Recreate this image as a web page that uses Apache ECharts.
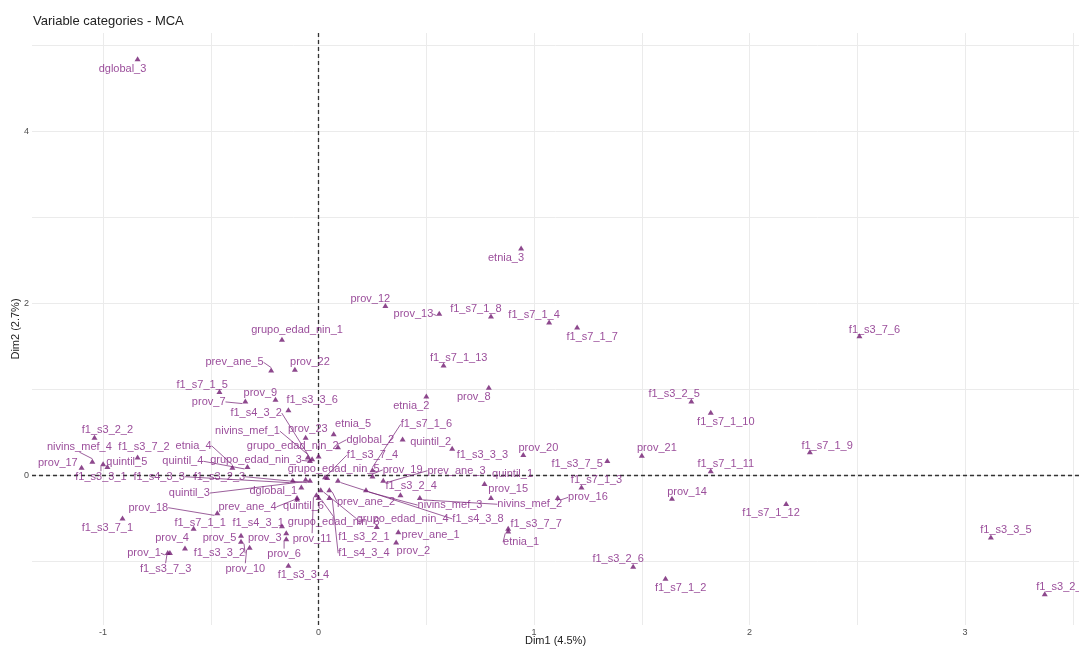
<!DOCTYPE html>
<html>
<head>
<meta charset="utf-8">
<script src="https://cdn.jsdelivr.net/npm/echarts@6/dist/echarts.min.js"></script>
<style>
  html, body { margin: 0; padding: 0; background: #fff; }
  #chart { width: 1079px; height: 649px; }
</style>
</head>
<body>
<div id="chart"></div>
<script>
// MCA variable categories: coordinates on Dim1 / Dim2
const names = [
  'dglobal_3', 'etnia_3', 'prov_12', 'prov_13', 'f1_s7_1_8', 'f1_s7_1_4', 'f1_s7_1_7', 'f1_s7_1_13',
  'prov_8', 'etnia_2', 'grupo_edad_nin_1', 'prev_ane_5', 'prov_22', 'f1_s7_1_5', 'prov_9', 'prov_7',
  'f1_s3_3_6', 'f1_s4_3_2', 'nivins_mef_1', 'prov_23', 'etnia_5', 'f1_s7_1_6', 'dglobal_2', 'quintil_2',
  'f1_s3_3_3', 'grupo_edad_nin_2', 'etnia_4', 'quintil_4', 'grupo_edad_nin_3', 'f1_s3_2_2', 'nivins_mef_4', 'prov_17',
  'quintil_5', 'f1_s3_3_1', 'f1_s3_7_2', 'f1_s4_3_3', 'f1_s3_2_3', 'quintil_3', 'dglobal_1', 'grupo_edad_nin_5',
  'prov_19', 'prev_ane_3', 'quintil_1', 'prov_15', 'f1_s3_2_4', 'f1_s3_7_4', 'prev_ane_2', 'nivins_mef_3',
  'nivins_mef_2', 'f1_s4_3_8', 'grupo_edad_nin_4', 'prev_ane_1', 'prov_2', 'f1_s3_2_1', 'f1_s4_3_4', 'grupo_edad_nin_6',
  'quintil_6', 'prov_11', 'prov_3', 'prov_6', 'f1_s3_3_4', 'prov_10', 'prov_5', 'f1_s3_3_2',
  'f1_s4_3_1', 'f1_s7_1_1', 'prev_ane_4', 'prov_18', 'f1_s3_7_1', 'prov_4', 'prov_1', 'f1_s3_7_3',
  'f1_s3_7_6', 'f1_s3_2_5', 'f1_s7_1_10', 'prov_21', 'f1_s7_1_9', 'f1_s7_1_11', 'f1_s3_7_5', 'f1_s7_1_3',
  'prov_16', 'prov_20', 'f1_s3_7_7', 'etnia_1', 'f1_s3_2_6', 'f1_s7_1_2', 'prov_14', 'f1_s7_1_12',
  'f1_s3_3_5', 'f1_s3_2_7'
];
const dim1 = [
  -0.84, 0.94, 0.31, 0.56, 0.80, 1.07, 1.20, 0.58,
  0.79, 0.50, -0.17, -0.22, -0.11, -0.46, -0.20, -0.34,
  -0.14, -0.04, -0.05, -0.06, 0.07, 0.25, 0.09, 0.39,
  0.62, 0.00, -0.40, -0.33, -0.03, -1.04, -1.05, -1.10,
  -0.98, -1.00, -0.84, -0.12, -0.04, -0.06, -0.08, 0.03,
  0.25, 0.30, 0.77, 0.80, 0.38, 0.04, 0.05, 0.22,
  0.47, 0.09, 0.01, 0.37, 0.36, 0.27, 0.05, 0.00,
  -0.10, -0.01, -0.15, -0.15, -0.14, -0.32, -0.36, -0.36,
  -0.17, -0.58, -0.10, -0.47, -0.91, -0.62, -0.70, -0.69,
  2.51, 1.73, 1.82, 1.50, 2.28, 1.82, 1.34, 1.22,
  1.11, 0.95, 0.88, 0.88, 1.46, 1.61, 1.64, 2.17,
  3.12, 3.37
];
const dim2 = [
  4.84, 2.64, 1.97, 1.88, 1.85, 1.78, 1.72, 1.28,
  1.02, 0.92, 1.58, 1.22, 1.23, 0.97, 0.88, 0.86,
  0.76, 0.17, 0.21, 0.44, 0.48, 0.06, 0.33, 0.42,
  0.31, 0.22, 0.09, 0.10, 0.19, 0.44, 0.16, 0.09,
  0.10, 0.13, 0.21, -0.06, -0.06, -0.05, -0.14, -0.02,
  -0.01, -0.06, -0.10, -0.26, -0.23, -0.03, -0.17, -0.17,
  -0.26, -0.06, -0.17, -0.66, -0.78, -0.60, -0.26, -0.26,
  -0.28, -0.23, -0.67, -0.74, -1.05, -0.84, -0.70, -0.77,
  -0.59, -0.62, -0.26, -0.44, -0.50, -0.85, -0.90, -0.90,
  1.62, 0.86, 0.73, 0.23, 0.27, 0.05, 0.17, -0.14,
  -0.26, 0.24, -0.62, -0.65, -1.06, -1.20, -0.27, -0.33,
  -0.72, -1.38
];
// where the repelled text labels sit (same units as the axes)
const labelDim1 = [
  -0.91, 0.87, 0.24, 0.44, 0.73, 1.00, 1.27, 0.65,
  0.72, 0.43, -0.10, -0.39, -0.04, -0.54, -0.27, -0.51,
  -0.03, -0.29, -0.33, -0.05, 0.16, 0.50, 0.24, 0.52,
  0.76, -0.12, -0.58, -0.63, -0.29, -0.98, -1.11, -1.21,
  -0.89, -1.01, -0.81, -0.74, -0.46, -0.60, -0.21, 0.07,
  0.39, 0.64, 0.90, 0.88, 0.43, 0.25, 0.22, 0.61,
  0.98, 0.74, 0.39, 0.52, 0.44, 0.21, 0.21, 0.07,
  -0.07, -0.03, -0.25, -0.16, -0.07, -0.34, -0.46, -0.46,
  -0.28, -0.55, -0.33, -0.79, -0.98, -0.68, -0.81, -0.71,
  2.58, 1.65, 1.89, 1.57, 2.36, 1.89, 1.20, 1.29,
  1.25, 1.02, 1.01, 0.94, 1.39, 1.68, 1.71, 2.10,
  3.19, 3.45
];
const labelDim2 = [
  4.72, 2.52, 2.05, 1.87, 1.93, 1.86, 1.60, 1.36,
  0.91, 0.80, 1.69, 1.31, 1.31, 1.05, 0.95, 0.85,
  0.87, 0.72, 0.51, 0.53, 0.59, 0.59, 0.41, 0.38,
  0.23, 0.34, 0.34, 0.16, 0.17, 0.52, 0.33, 0.14,
  0.15, -0.02, 0.33, -0.02, -0.02, -0.21, -0.19, 0.07,
  0.06, 0.05, 0.01, -0.16, -0.13, 0.23, -0.31, -0.35,
  -0.34, -0.51, -0.51, -0.70, -0.88, -0.72, -0.91, -0.55,
  -0.36, -0.74, -0.73, -0.92, -1.16, -1.09, -0.73, -0.91,
  -0.56, -0.56, -0.37, -0.38, -0.62, -0.73, -0.91, -1.09,
  1.69, 0.94, 0.62, 0.31, 0.34, 0.13, 0.13, -0.06,
  -0.26, 0.31, -0.57, -0.78, -0.98, -1.31, -0.20, -0.44,
  -0.64, -1.30
];

const xTicks = [-1, 0, 1, 2, 3];
const yTicks = [0, 2, 4];
const xGridBreaks = [-1, -0.5, 0, 0.5, 1, 1.5, 2, 2.5, 3, 3.5];
const yGridBreaks = [-1, 0, 1, 2, 3, 4, 5];
const xRange = [-1.33, 3.529];
const yRange = [-1.744, 5.14];

const FONT = '"Liberation Sans", Arial, sans-serif';
const TEXT_COL = '#822282';
const MARK_COL = '#701a70';

const chart = echarts.init(document.getElementById('chart'));
let labelPx = [];

const baseOption = {
  animation: false,
  textStyle: { fontFamily: FONT },
  title: {
    text: 'Variable categories - MCA',
    left: 33,
    top: 15,
    padding: 0,
    textStyle: { fontSize: 13, fontWeight: 'normal', color: '#222', fontFamily: FONT }
  },
  grid: { left: 32, right: 0, top: 33, bottom: 24, containLabel: false, outerBoundsMode: 'none' },
  xAxis: {
    type: 'value',
    min: xRange[0],
    max: xRange[1],
    name: 'Dim1 (4.5%)',
    nameLocation: 'middle',
    nameGap: 10,
    nameMoveOverlap: false,
    nameTextStyle: { fontSize: 11, color: '#222' },
    axisLine: { show: false },
    axisTick: { show: true, length: 3, lineStyle: { color: '#333' }, customValues: xTicks },
    axisLabel: { fontSize: 9, color: '#4d4d4d', margin: 3, customValues: xTicks },
    splitLine: { show: false }
  },
  yAxis: {
    type: 'value',
    min: yRange[0],
    max: yRange[1],
    name: 'Dim2 (2.7%)',
    nameLocation: 'middle',
    nameGap: 11,
    nameMoveOverlap: false,
    nameTextStyle: { fontSize: 11, color: '#222' },
    axisLine: { show: false },
    axisTick: { show: true, length: 3, lineStyle: { color: '#333' }, customValues: yTicks },
    axisLabel: { fontSize: 9, color: '#4d4d4d', margin: 3, customValues: yTicks },
    splitLine: { show: false }
  },
  series: [
    {
      id: 'gridlines',
      type: 'scatter',
      data: [],
      silent: true,
      z: 1,
      markLine: {
        silent: true,
        symbol: 'none',
        z: 1,
        label: { show: false },
        lineStyle: { color: '#ebebeb', width: 1, type: 'solid' },
        data: xGridBreaks.map(v => ({ xAxis: v })).concat(yGridBreaks.map(v => ({ yAxis: v })))
      }
    },
    {
      id: 'zerolines',
      type: 'scatter',
      data: [],
      silent: true,
      z: 2,
      markLine: {
        silent: true,
        symbol: 'none',
        z: 2,
        label: { show: false },
        lineStyle: { color: '#333', width: 1.3, type: [4, 3] },
        data: [{ xAxis: 0 }, { yAxis: 0 }]
      }
    },
    {
      id: 'pts',
      type: 'scatter',
      z: 3,
      symbol: 'triangle',
      symbolSize: [6, 5],
      itemStyle: { color: MARK_COL },
      data: names.map((n, i) => ({ name: n, value: [dim1[i], dim2[i]] })),
      label: {
        show: true,
        formatter: '{b}',
        fontSize: 11,
        color: TEXT_COL,
        fontFamily: FONT
      },
      labelLine: { show: false, lineStyle: { color: MARK_COL, width: 0.7 } },
      emphasis: { disabled: true }
    }
  ]
};

chart.setOption(baseOption);

// place each label where it sits in the reference and add a leader line when it is detached
labelPx = names.map((n, i) => chart.convertToPixel({ gridIndex: 0 }, [labelDim1[i], labelDim2[i]]));
const ptData = names.map((n, i) => {
  const p = chart.convertToPixel({ gridIndex: 0 }, [dim1[i], dim2[i]]);
  const l = labelPx[i];
  const halfW = n.length * 2.9;
  const gx = Math.max(0, Math.abs(p[0] - l[0]) - halfW);
  const gy = Math.max(0, Math.abs(p[1] - l[1]) - 6);
  return {
    name: n,
    value: [dim1[i], dim2[i]],
    labelLine: { show: Math.hypot(gx, gy) > 5 }
  };
});

chart.setOption({
  series: [{
    id: 'pts',
    data: ptData,
    labelLayout: function (params) {
      const l = labelPx[params.dataIndex];
      return { x: l[0], y: l[1], align: 'center', verticalAlign: 'middle' };
    }
  }]
});

window.addEventListener('resize', chart.resize);
</script>
</body>
</html>
